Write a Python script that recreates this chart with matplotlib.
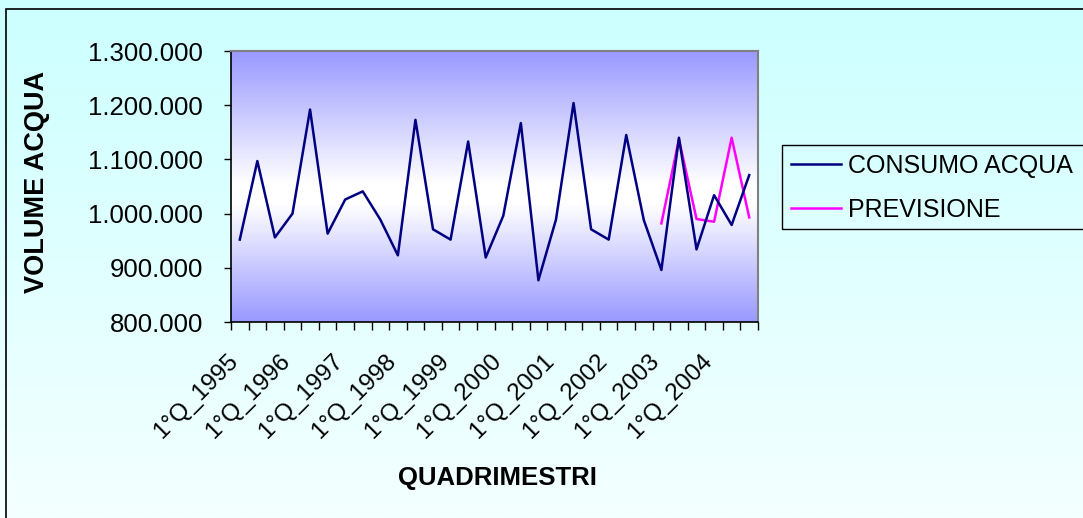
import numpy as np
import matplotlib.pyplot as plt
from matplotlib.patches import Rectangle
from matplotlib.ticker import FuncFormatter, FixedLocator
from matplotlib.transforms import ScaledTranslation

plt.rcParams['font.family'] = ['Liberation Sans', 'DejaVu Sans']

# data
years = [str(y) for y in range(1995, 2005)]
tick_labels = ["1°Q_" + y for y in years]
consumo = [952000, 1097000, 956000, 1000000, 1192000, 963000, 1026000, 1041000,
           989000, 923000, 1173000, 971000, 952000, 1133000, 919000, 996000,
           1167000, 877000, 989000, 1204000, 971000, 952000, 1145000, 988000,
           896000, 1140000, 934000, 1034000, 979000, 1071000]
previsione = [982000, 1137000, 990000, 985000, 1140000, 993000]
prev_start = 24

W, H = 1083, 518
fig = plt.figure(figsize=(W / 100, H / 100), dpi=100)

# figure background (cyan gradient) and border
bg = fig.add_axes([0, 0, 1, 1], zorder=-10)
g = np.linspace(0, 1, 256)[:, None]
top = np.array([204, 255, 255]) / 255
bot = np.array([244, 255, 255]) / 255
img = top[None, None, :] * (1 - g[..., None]) + bot[None, None, :] * g[..., None]
bg.imshow(img, aspect='auto', extent=[0, 1, 0, 1])
bg.set_xlim(0, 1)
bg.set_ylim(0, 1)
bg.axis('off')
fig.patches.append(Rectangle((6 / W, -0.05), 1.1, 1 - 9 / H + 0.05,
                             transform=fig.transFigure, fill=False,
                             edgecolor='black', lw=1.2))

ax = fig.add_axes([231 / W, 1 - 322 / H, (758 - 231) / W, (322 - 51) / H])
ax.set_facecolor('none')

# plot area gradient: blue top/bottom, white middle
n = 300
t = np.linspace(0, 1, n)
mid = 0.53
w = np.where(t < mid, t / mid, (1 - t) / (1 - mid))
w = np.clip(w * 1.08, 0, 1)
blue = np.array([153, 153, 255]) / 255
white = np.array([1.0, 1.0, 1.0])
grad = blue[None, :] * (1 - w[:, None]) + white[None, :] * w[:, None]
ax.imshow(grad[:, None, :], aspect='auto', extent=[0, 30, 800000, 1300000],
          origin='upper', zorder=0)

x = np.arange(len(consumo)) + 0.5
xp = np.arange(prev_start, prev_start + len(previsione)) + 0.5
ax.plot(x, consumo, color='#000080', lw=1.8, label='CONSUMO ACQUA', zorder=3)
ax.plot(xp, previsione, color='#FF00FF', lw=1.8, label='PREVISIONE', zorder=2)

ax.set_xlim(0, 30)
ax.set_ylim(800000, 1300000)
ax.set_yticks(np.arange(800000, 1300001, 100000))
ax.yaxis.set_major_formatter(FuncFormatter(lambda v, p: f"{v:,.0f}".replace(',', '.')))
ax.tick_params(axis='y', length=5, width=1, labelsize=18.5, pad=15)

ax.xaxis.set_major_locator(FixedLocator(np.arange(0, 31)))
ax.xaxis.set_minor_locator(FixedLocator(np.arange(0, 30, 3) + 0.5))
ax.tick_params(axis='x', which='major', length=6, width=1, labelbottom=False)
ax.tick_params(axis='x', which='minor', length=0, pad=20)
ax.set_xticklabels(tick_labels, minor=True, rotation=45, ha='right', va='top',
                   rotation_mode='anchor', fontsize=17.5)
shift = ScaledTranslation(-0.13, 0, fig.dpi_scale_trans)
for lab in ax.get_xticklabels(minor=True):
    lab.set_transform(lab.get_transform() + shift)

for s in ['top', 'right']:
    ax.spines[s].set_color('#808080')
    ax.spines[s].set_linewidth(1.5)
for s in ['left', 'bottom']:
    ax.spines[s].set_color('black')
    ax.spines[s].set_linewidth(1.2)

fig.text(497 / W, 1 - 478 / H, 'QUADRIMESTRI', ha='center', va='center',
         fontsize=18.5, fontweight='bold')
fig.text(37 / W, 1 - 182 / H, 'VOLUME ACQUA', ha='center', va='center',
         rotation=90, fontsize=19.5, fontweight='bold')

leg = fig.legend(loc='upper left', bbox_to_anchor=(782 / W, 1 - 145 / H),
                 fontsize=18, frameon=True, fancybox=False,
                 handlelength=2.0, handletextpad=0.28, borderpad=0.36,
                 labelspacing=0.8, borderaxespad=0)
leg.get_frame().set_facecolor('none')
leg.get_frame().set_edgecolor('none')
# legend box runs past the right edge of the picture
fig.patches.append(Rectangle((782 / W, 1 - 229 / H), 0.5, 84 / H,
                             transform=fig.transFigure, fill=False,
                             edgecolor='black', lw=1.0))

fig.savefig('out.png', dpi=100)
